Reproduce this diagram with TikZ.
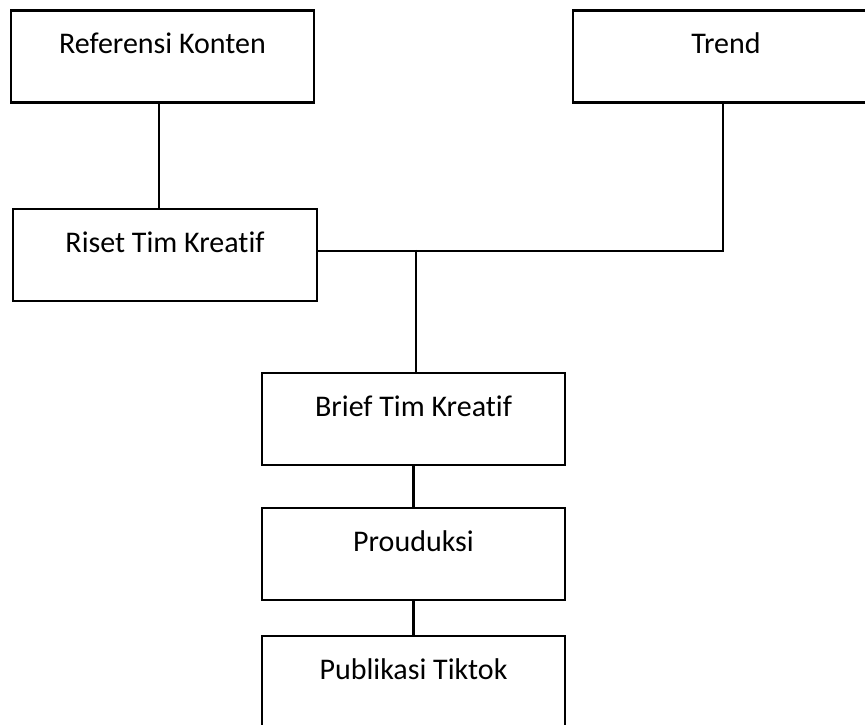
\documentclass[tikz,border=0pt]{standalone}
\usepackage{fontspec}
\setmainfont[Ligatures={NoCommon}]{Carlito}
\usetikzlibrary{calc}
\begin{document}
\begin{tikzpicture}[x=1pt,y=-1pt,
  box/.style={draw=black,line width=2.4pt,rectangle,minimum width=303pt,minimum height=92pt,inner sep=0pt},
  lbl/.style={anchor=base,font=\fontsize{30}{36}\selectfont,inner sep=0pt},
  link/.style={draw=black,line width=2.4pt}]
\useasboundingbox (0,0) rectangle (865,725);
\clip (0,0) rectangle (865,725);
% boxes
\node[box] (ref)   at (162.5,56.5) {};
\node[box,minimum width=306pt] (trend) at (726,56.5) {};
\node[box,minimum width=304pt] (riset) at (165,255) {};
\node[box] (brief) at (413.5,419) {};
\node[box] (prod)  at (413.5,554) {};
\node[box] (pub)   at (413.5,682) {};
% labels
\node[lbl] (tref)   at ($(ref.north)+(0,44)$)   {Referensi Konten};
\node[lbl] (ttrend) at ($(trend.north)+(0,44)$) {Trend};
\node[lbl] (triset) at ($(riset.north)+(0,45)$) {Riset Tim Kreatif};
\node[lbl] (tbrief) at ($(brief.north)+(0,45)$) {Brief Tim Kreatif};
\node[lbl] (tprod)  at ($(prod.north)+(0,45)$)  {Prouduksi};
\node[lbl] (tpub)   at ($(pub.north)+(0,45)$)   {Publikasi Tiktok};
% connectors
\coordinate (join) at ($(brief.north)+(2.5,-122)$);
\draw[link] ([xshift=-3.5pt]ref.south) -- ([xshift=-3.5pt]ref.south |- riset.north);
\draw[link] ([xshift=-3pt]trend.south) |- ($(riset.east)+(0,-4)$);
\draw[link] (join) -- (join |- brief.north);
\draw[link] (brief.south) -- (prod.north);
\draw[link] (prod.south) -- (pub.north);
\end{tikzpicture}
\end{document}
